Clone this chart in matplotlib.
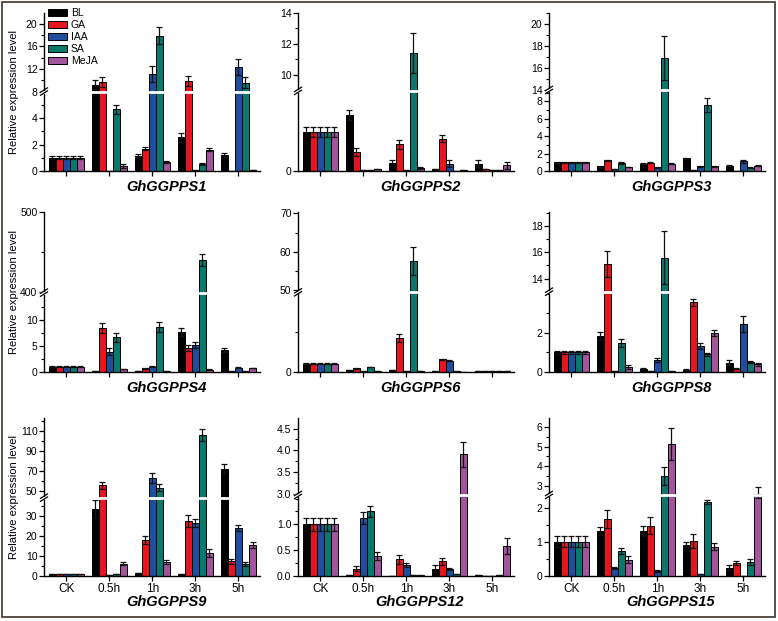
import numpy as np
import matplotlib
matplotlib.use('Agg')
import matplotlib.pyplot as plt
from matplotlib.patches import Rectangle, Patch

plt.rcParams['font.family'] = ['Liberation Sans', 'DejaVu Sans']

times = ['CK', '0.5h', '1h', '3h', '5h']
treatments = ['BL', 'GA', 'IAA', 'SA', 'MeJA']
colors = ['#000000', '#e8141e', '#1f4ea0', '#0b786e', '#a3559c']

# rows = treatments (BL, GA, IAA, SA, MeJA), columns = time points
gg1_val = [[1.0, 9.2, 1.15, 2.54, 1.18],
           [1.0, 9.65, 1.69, 9.8, 0.02],
           [1.0, 0.02, 11.1, 0.05, 12.4],
           [1.0, 4.67, 17.9, 0.5, 9.6],
           [1.0, 0.38, 0.67, 1.6, 0.08]]
gg1_err = [[0.1, 0.8, 0.1, 0.33, 0.15],
           [0.1, 0.9, 0.12, 0.9, 0],
           [0.1, 0, 1.4, 0, 1.4],
           [0.1, 0.35, 1.5, 0.08, 0.9],
           [0.1, 0.13, 0.06, 0.12, 0]]

gg2_val = [[1.0, 1.44, 0.2, 0.04, 0.19],
           [1.0, 0.49, 0.68, 0.83, 0.06],
           [1.0, 0.02, 0.03, 0.19, 0.02],
           [1.0, 0.03, 11.4, 0.01, 0.03],
           [1.0, 0.05, 0.08, 0.03, 0.15]]
gg2_err = [[0.13, 0.13, 0.07, 0, 0.1],
           [0.13, 0.11, 0.11, 0.1, 0],
           [0.13, 0, 0, 0.09, 0],
           [0.13, 0, 1.3, 0, 0],
           [0.13, 0, 0.02, 0, 0.09]]

gg3_val = [[1.0, 0.55, 0.85, 1.45, 0.6],
           [1.0, 1.22, 0.95, 0.1, 0.05],
           [1.0, 0.25, 0.45, 0.55, 1.1],
           [1.0, 0.9, 16.9, 7.55, 0.4],
           [1.0, 0.45, 0.85, 0.55, 0.62]]
gg3_err = [[0.07, 0.05, 0.05, 0.06, 0.05],
           [0.07, 0.08, 0.06, 0, 0],
           [0.07, 0, 0.05, 0.06, 0.15],
           [0.07, 0.08, 2.0, 0.8, 0.04],
           [0.07, 0.04, 0.05, 0.04, 0.05]]

gg4_val = [[1.0, 0.05, 0.1, 7.7, 4.25],
           [1.0, 8.4, 0.65, 4.65, 0.05],
           [1.0, 3.9, 0.95, 5.2, 0.8],
           [1.0, 6.65, 8.6, 440, 0.2],
           [1.0, 0.5, 0.2, 0.4, 0.7]]
gg4_err = [[0.1, 0, 0, 0.8, 0.35],
           [0.1, 1.0, 0.1, 0.6, 0],
           [0.1, 0.6, 0.1, 0.6, 0.1],
           [0.1, 0.9, 1.0, 8, 0],
           [0.1, 0.05, 0, 0.05, 0.08]]

gg6_val = [[1.0, 0.2, 0.2, 0.15, 0.1],
           [1.0, 0.42, 4.25, 1.58, 0.15],
           [1.0, 0.05, 0.05, 1.4, 0.05],
           [1.0, 0.6, 57.6, 0.05, 0.05],
           [1.0, 0.05, 0.15, 0.02, 0.05]]
gg6_err = [[0.08, 0, 0, 0, 0],
           [0.08, 0.04, 0.5, 0.08, 0],
           [0.08, 0, 0, 0.08, 0],
           [0.08, 0.05, 3.7, 0, 0],
           [0.08, 0, 0, 0, 0]]

gg8_val = [[1.0, 1.83, 0.15, 0.1, 0.45],
           [1.0, 15.1, 0.02, 3.55, 0.15],
           [1.0, 0.05, 0.6, 1.32, 2.44],
           [1.0, 1.45, 15.6, 0.89, 0.5],
           [1.0, 0.24, 0.02, 1.98, 0.38]]
gg8_err = [[0.07, 0.2, 0.03, 0.02, 0.13],
           [0.07, 1.0, 0, 0.2, 0.02],
           [0.07, 0, 0.1, 0.16, 0.43],
           [0.07, 0.2, 2.0, 0.09, 0.06],
           [0.07, 0.1, 0, 0.17, 0.08]]

gg9_val = [[1.0, 33.5, 1.2, 0.8, 72],
           [1.0, 55.4, 18, 27.3, 7.2],
           [1.0, 0.3, 62.5, 26.3, 24],
           [1.0, 0.8, 53, 106, 5.8],
           [1.0, 5.9, 6.7, 11.2, 15.3]]
gg9_err = [[0, 4.5, 0, 0, 4.5],
           [0, 3.5, 2, 3, 1.2],
           [0, 0, 5, 2, 1.5],
           [0, 0, 3.5, 6, 1],
           [0, 0.7, 0.9, 2, 1.5]]

gg12_val = [[1.0, 0.01, 0.0, 0.14, 0.02],
            [1.0, 0.14, 0.32, 0.28, 0.0],
            [1.0, 1.12, 0.2, 0.13, 0.0],
            [1.0, 1.25, 0.01, 0.04, 0.02],
            [1.0, 0.38, 0.01, 3.91, 0.58]]
gg12_err = [[0.13, 0, 0, 0.06, 0],
            [0.13, 0.05, 0.09, 0.07, 0],
            [0.13, 0.12, 0.04, 0.02, 0],
            [0.13, 0.11, 0, 0, 0],
            [0.13, 0.08, 0, 0.29, 0.15]]

gg15_val = [[1.0, 1.31, 1.31, 0.91, 0.24],
            [1.0, 1.67, 1.47, 1.01, 0.38],
            [1.0, 0.23, 0.14, 0.05, 0.0],
            [1.0, 0.72, 3.51, 2.16, 0.41],
            [1.0, 0.47, 5.14, 0.85, 2.6]]
gg15_err = [[0.16, 0.12, 0.14, 0.08, 0.06],
            [0.16, 0.26, 0.26, 0.2, 0.06],
            [0.16, 0.04, 0.02, 0, 0],
            [0.16, 0.08, 0.45, 0.06, 0.09],
            [0.16, 0.1, 0.8, 0.1, 0.33]]

# gene, values, errors, lower max, upper min, upper max, break fraction,
# lower ticks (labelled, minor), upper ticks (labelled, minor)
panels = [
    ('GhGGPPS1', gg1_val, gg1_err, 6.0, 8.0, 22.0, 0.502,
     [0, 2, 4], [1, 3, 5], [8, 12, 16, 20], [10, 14, 18], '%g'),
    ('GhGGPPS2', gg2_val, gg2_err, 2.05, 8.94, 14.0, 0.506,
     [0], [], [10, 12, 14], [11, 13], '%g'),
    ('GhGGPPS3', gg3_val, gg3_err, 9.3, 14.0, 21.0, 0.512,
     [0, 2, 4, 6, 8], [1, 3, 5, 7, 9], [14, 16, 18, 20], [15, 17, 19, 21], '%g'),
    ('GhGGPPS4', gg4_val, gg4_err, 15.3, 399, 500, 0.496,
     [0, 5, 10], [2.5, 7.5, 12.5], [400, 500], [450], '%g'),
    ('GhGGPPS6', gg6_val, gg6_err, 10.0, 49.5, 70.3, 0.498,
     [0], [5], [50, 60, 70], [55, 65], '%g'),
    ('GhGGPPS8', gg8_val, gg8_err, 4.1, 13.0, 19.05, 0.502,
     [0, 2], [1, 3, 4], [14, 16, 18], [13, 15, 17, 19], '%g'),
    ('GhGGPPS9', gg9_val, gg9_err, 39.0, 42.9, 123.7, 0.494,
     [0, 10, 20, 30], [5, 15, 25, 35], [50, 70, 90, 110], [60, 80, 100, 120], '%g'),
    ('GhGGPPS12', gg12_val, gg12_err, 1.57, 2.97, 4.75, 0.511,
     [0.0, 0.5, 1.0], [0.25, 0.75, 1.25, 1.5], [3.0, 3.5, 4.0, 4.5], [3.25, 3.75, 4.25], '%.1f'),
    ('GhGGPPS15', gg15_val, gg15_err, 2.37, 2.53, 6.48, 0.511,
     [0, 1, 2], [0.5, 1.5], [3, 4, 5, 6], [3.5, 4.5, 5.5], '%g'),
]


def make_scale(lo, u0, u1, f):
    def fwd(y):
        y = np.asarray(y, dtype=float)
        return np.where(y <= lo, y / lo * f,
                        np.where(y >= u0, f + (y - u0) / (u1 - u0) * (1 - f), f))

    def inv(t):
        t = np.asarray(t, dtype=float)
        return np.where(t <= f, t / f * lo, u0 + (t - f) / (1 - f) * (u1 - u0))
    return fwd, inv


W, H = 778, 621
fig = plt.figure(figsize=(W / 100, H / 100), dpi=100)

col_x = [44, 298, 549]
ax_w = 216
rows_px = [(12.7, 171), (212.3, 371.7), (417.7, 575.7)]
title_y = [187, 387.7, 601.7]

x = np.arange(len(times))
bw = 0.163

for k, (gene, vals, errs, lo, u0, u1, f, lt, lmin, ut, umin, fmt) in enumerate(panels):
    r, c = divmod(k, 3)
    top, bot = rows_px[r]
    ax = fig.add_axes([col_x[c] / W, 1 - bot / H, ax_w / W, (bot - top) / H])
    fwd, inv = make_scale(lo, u0, u1, f)
    ax.set_yscale('function', functions=(fwd, inv))

    for i, tr in enumerate(treatments):
        ax.bar(x + (i - 2) * bw, vals[i], bw, yerr=errs[i], color=colors[i],
               edgecolor='black', linewidth=0.7, label=tr,
               error_kw=dict(elinewidth=0.9, capsize=2.3, capthick=0.9, ecolor='#111111'))

    ax.set_xlim(-0.52, 4.5)
    ax.set_ylim(0, u1)
    ticks = lt + ut
    ax.set_yticks(ticks)
    ax.set_yticklabels([fmt % t for t in ticks])
    ax.set_yticks(lmin + umin, minor=True)
    ax.yaxis.set_minor_formatter(plt.NullFormatter())
    ax.set_xticks(x)
    if r == 2:
        ax.set_xticklabels(times)
    else:
        ax.set_xticklabels([])
    ax.tick_params(axis='both', which='major', direction='out', length=3.5, width=0.9,
                   labelsize=7.5, pad=1.2)
    ax.tick_params(axis='y', which='minor', direction='out', length=2, width=0.8)
    ax.tick_params(axis='x', which='major', labelsize=8.5, pad=2)
    for s in ['top', 'right']:
        ax.spines[s].set_visible(False)
    for s in ['left', 'bottom']:
        ax.spines[s].set_linewidth(1.0)

    # break: white gap across the bars plus slash marks on the axis
    h_px = bot - top
    ax.plot([-0.02, 1], [f, f], transform=ax.transAxes, color='white', lw=2.0,
            solid_capstyle='butt', zorder=10, clip_on=False)
    dx = 3.5 / ax_w
    dy = 2.2 / h_px
    g = 1.5 / h_px
    for sgn in (1, -1):
        y0 = f + sgn * g
        ax.plot([-dx, dx], [y0 - dy, y0 + dy], transform=ax.transAxes, color='black',
                lw=0.9, zorder=11, clip_on=False)

    fig.text((col_x[c] + ax_w / 2 + 14) / W, 1 - title_y[r] / H, gene,
             fontsize=10.5, fontweight='bold', fontstyle='italic',
             ha='center', va='center')

    if c == 0:
        fig.text(14.5 / W, 1 - (top + bot) / 2 / H, 'Relative expression level',
                 rotation=90, fontsize=8, ha='center', va='center')

    if k == 0:
        handles = [Patch(facecolor=colors[i], edgecolor='black', linewidth=0.7)
                   for i in range(5)]
        ax.legend(handles, treatments, loc='upper left', bbox_to_anchor=(0.02, 1.03),
                  frameon=False, fontsize=7.5, handlelength=1.8, handleheight=0.75,
                  labelspacing=0.2, handletextpad=0.35, borderpad=0, borderaxespad=0)

fig.patches.append(Rectangle((2 / W, 4 / H), 773 / W, 615 / H, transform=fig.transFigure,
                             fill=False, edgecolor='#4d423c', linewidth=1.3))

fig.savefig('out.png', dpi=100)
